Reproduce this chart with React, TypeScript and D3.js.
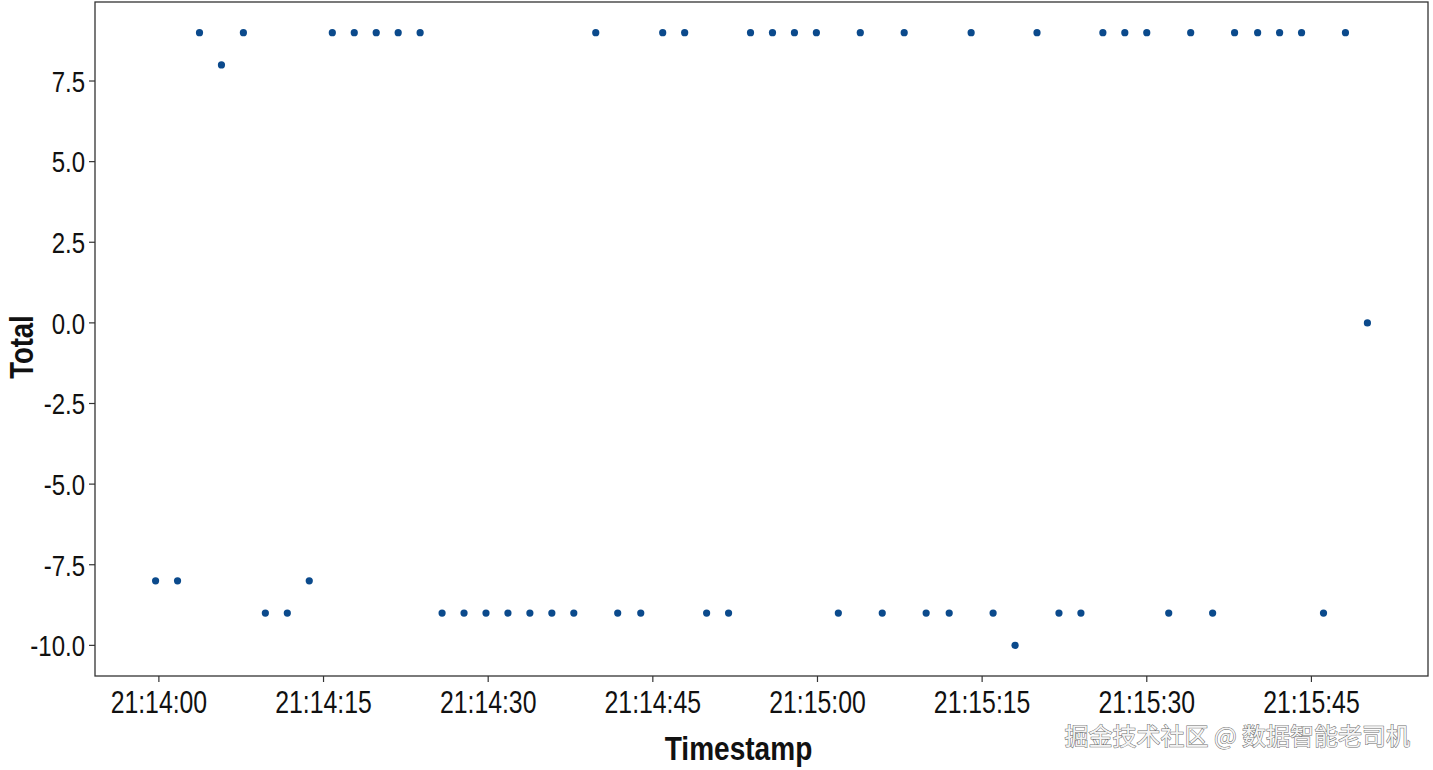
import React from "react";
import * as d3 from "d3";

const timestamps: string[] = [
  "21:13:59.7", "21:14:01.7", "21:14:03.7", "21:14:05.7", "21:14:07.7", "21:14:09.7", "21:14:11.7", "21:14:13.7",
  "21:14:15.8", "21:14:17.8", "21:14:19.8", "21:14:21.8", "21:14:23.8", "21:14:25.8", "21:14:27.8", "21:14:29.8",
  "21:14:31.8", "21:14:33.8", "21:14:35.8", "21:14:37.8", "21:14:39.8", "21:14:41.8", "21:14:43.9", "21:14:45.9",
  "21:14:47.9", "21:14:49.9", "21:14:51.9", "21:14:53.9", "21:14:55.9", "21:14:57.9", "21:14:59.9", "21:15:01.9",
  "21:15:03.9", "21:15:05.9", "21:15:07.9", "21:15:09.9", "21:15:12.0", "21:15:14.0", "21:15:16.0", "21:15:18.0",
  "21:15:20.0", "21:15:22.0", "21:15:24.0", "21:15:26.0", "21:15:28.0", "21:15:30.0", "21:15:32.0", "21:15:34.0",
  "21:15:36.0", "21:15:38.0", "21:15:40.1", "21:15:42.1", "21:15:44.1", "21:15:46.1", "21:15:48.1", "21:15:50.1",
];

const totals: number[] = [
  -8, -8, 9, 8, 9, -9, -9, -8,
  9, 9, 9, 9, 9, -9, -9, -9,
  -9, -9, -9, -9, 9, -9, -9, 9,
  9, -9, -9, 9, 9, 9, 9, -9,
  9, -9, 9, -9, -9, 9, -9, -10,
  9, -9, -9, 9, 9, 9, -9, 9,
  -9, 9, 9, 9, 9, -9, 9, 0,
];

const xTickLabels: string[] = ["21:14:00", "21:14:15", "21:14:30", "21:14:45", "21:15:00", "21:15:15", "21:15:30", "21:15:45"];
const yTicks: number[] = [-10, -7.5, -5, -2.5, 0, 2.5, 5, 7.5];

const W = 1433;
const H = 770;
const M = { left: 95, right: 1428, top: 2, bottom: 676 };
const FONT = "'Liberation Sans', Arial, sans-serif";
const SX = 0.8;

const parseT = (s: string): Date => {
  const [h, m, sec] = s.split(":");
  const secs = parseFloat(sec);
  const whole = Math.floor(secs);
  return new Date(2020, 0, 1, +h, +m, whole, Math.round((secs - whole) * 1000));
};

export default function App() {
  const dates = timestamps.map(parseT);
  const [t0, t1] = d3.extent(dates) as [Date, Date];
  const span = t1.getTime() - t0.getTime();
  const x = d3
    .scaleTime()
    .domain([new Date(t0.getTime() - span * 0.05), new Date(t1.getTime() + span * 0.05)])
    .range([M.left, M.right]);
  const [v0, v1] = d3.extent(totals) as [number, number];
  const vr = v1 - v0;
  const y = d3.scaleLinear().domain([v0 - vr * 0.05, v1 + vr * 0.05]).range([M.bottom, M.top]);
  const fmt = (v: number) => d3.format(".1f")(v).replace("\u2212", "-");

  return (
    <svg width={W} height={H} style={{ position: "absolute", left: 0, top: 0, background: "#fff" }}>
      <rect x={0} y={0} width={W} height={H} fill="#fff" />
      {dates.map((d, i) => (
        <circle key={i} cx={x(d)} cy={y(totals[i])} r={3.6} fill="#0b4a8c" />
      ))}
      <rect
        x={M.left}
        y={M.top}
        width={M.right - M.left}
        height={M.bottom - M.top}
        fill="none"
        stroke="#333"
        strokeWidth={1.3}
      />
      {yTicks.map((v) => (
        <g key={v}>
          <line x1={M.left - 6} x2={M.left} y1={y(v)} y2={y(v)} stroke="#333" strokeWidth={1.2} />
          <text
            transform={`translate(${M.left - 10}, ${y(v)}) scale(${SX}, 1)`}
            dy="0.36em"
            textAnchor="end"
            fontFamily={FONT}
            fontSize={30}
            fill="#111"
          >
            {fmt(v)}
          </text>
        </g>
      ))}
      {xTickLabels.map((s) => {
        const px = x(parseT(s));
        return (
          <g key={s}>
            <line x1={px} x2={px} y1={M.bottom} y2={M.bottom + 6} stroke="#333" strokeWidth={1.2} />
            <text
              transform={`translate(${px}, 713) scale(${SX}, 1)`}
              textAnchor="middle"
              fontFamily={FONT}
              fontSize={31}
              fill="#111"
            >
              {s}
            </text>
          </g>
        );
      })}
      <text
        transform={`translate(${(M.left + M.right) / 2 - 23}, 760) scale(0.85, 1)`}
        textAnchor="middle"
        fontFamily={FONT}
        fontWeight="bold"
        fontSize={33}
        fill="#111"
      >
        Timestamp
      </text>
      <text
        transform={`translate(33, ${(M.top + M.bottom) / 2 + 8}) rotate(-90) scale(0.83, 1)`}
        textAnchor="middle"
        fontFamily={FONT}
        fontWeight="bold"
        fontSize={33}
        fill="#111"
      >
        Total
      </text>
      <text
        x={1410}
        y={745}
        textAnchor="end"
        fontFamily="'Noto Sans CJK SC', sans-serif"
        fontSize={24}
        fill="#f4f4f4"
        stroke="#6a6a6a"
        strokeWidth={1}
        paintOrder="stroke"
      >
        掘金技术社区 @ 数据智能老司机
      </text>
    </svg>
  );
}
